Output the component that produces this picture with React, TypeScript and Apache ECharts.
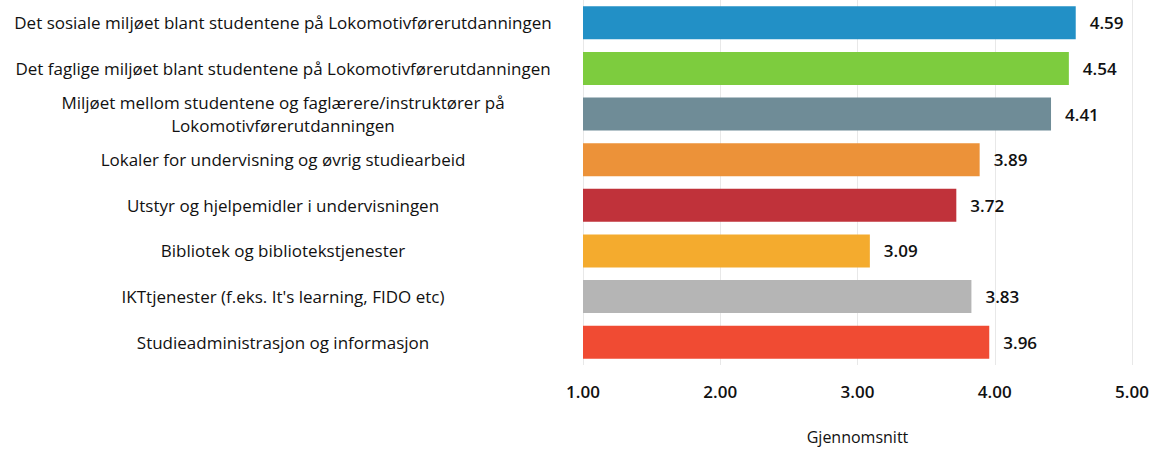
import React, { useEffect, useRef } from "react";
import * as echarts from "echarts";

const categories = [
  "Det sosiale miljøet blant studentene på Lokomotivførerutdanningen",
  "Det faglige miljøet blant studentene på Lokomotivførerutdanningen",
  "Miljøet mellom studentene og faglærere/instruktører på\nLokomotivførerutdanningen",
  "Lokaler for undervisning og øvrig studiearbeid",
  "Utstyr og hjelpemidler i undervisningen",
  "Bibliotek og bibliotekstjenester",
  "IKTtjenester (f.eks. It's learning, FIDO etc)",
  "Studieadministrasjon og informasjon",
];
const values = [4.59, 4.54, 4.41, 3.89, 3.72, 3.09, 3.83, 3.96];
const colors = ["#2290c6", "#7dcc3e", "#6f8c97", "#ec9239", "#c0323a", "#f4ab2e", "#b5b5b5", "#f04b33"];
const xTicks = [1, 2, 3, 4, 5];

export default function App() {
  const ref = useRef<HTMLDivElement>(null);
  useEffect(() => {
    if (!ref.current) return;
    const chart = echarts.init(ref.current, null, { renderer: "svg" });
    const font = "'Open Sans', Lato, sans-serif";
    chart.setOption({
      animation: false,
      backgroundColor: "#ffffff",
      grid: { left: 583, right: 23, top: 0, bottom: 78, containLabel: false },
      xAxis: {
        type: "value",
        min: xTicks[0],
        max: xTicks[xTicks.length - 1],
        interval: 1,
        name: "Gjennomsnitt",
        nameLocation: "middle",
        nameGap: 64,
        nameTextStyle: { fontFamily: font, fontSize: 16, fontWeight: 500, color: "#111" },
        axisLine: { show: false },
        axisTick: { show: false },
        axisLabel: {
          formatter: (v: number) => v.toFixed(2),
          fontFamily: font,
          fontSize: 17,
          fontWeight: 600,
          color: "#111",
          margin: 18,
        },
        splitLine: { show: true, lineStyle: { color: "#e8e8e8", width: 1 } },
      },
      yAxis: {
        type: "category",
        inverse: true,
        data: categories,
        axisLine: { show: false },
        axisTick: { show: false },
        axisLabel: {
          align: "center",
          margin: 300,
          fontFamily: font,
          fontSize: 17,
          fontWeight: 500,
          color: "#111",
          lineHeight: 23,
        },
      },
      series: [
        {
          type: "bar",
          barWidth: 33,
          data: values.map((v, i) => ({ value: v, itemStyle: { color: colors[i] } })),
          label: {
            show: true,
            position: "right",
            distance: 14,
            formatter: (p: any) => Number(p.value).toFixed(2),
            fontFamily: font,
            fontSize: 17,
            fontWeight: 600,
            color: "#111",
          },
        },
      ],
    });
    return () => chart.dispose();
  }, []);
  return (
    <div
      ref={ref}
      style={{ position: "fixed", left: 0, top: 0, width: 1155, height: 450 }}
    />
  );
}
